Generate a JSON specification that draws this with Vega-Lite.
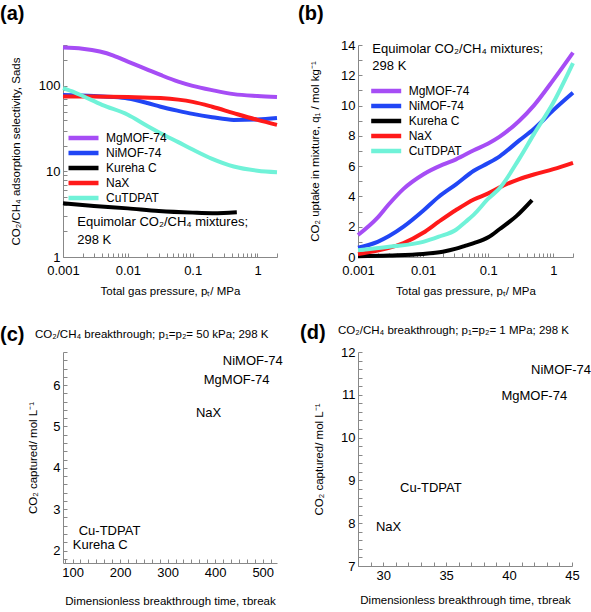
{
  "$schema": "https://vega.github.io/schema/vega-lite/v6.json",
  "padding": {"left": 0, "top": 4, "right": 0, "bottom": 0},
  "config": {
    "font": "Liberation Sans",
    "view": {"stroke": null},
    "axis": {
      "labelFont": "Liberation Sans", "titleFont": "Liberation Sans",
      "labelFontSize": 13, "titleFontSize": 11.5, "titleFontWeight": "normal",
      "labelColor": "#000", "titleColor": "#000",
      "domainColor": "#888", "tickColor": "#888", "tickSize": -4,
      "grid": false, "labelOverlap": false, "labelBound": false, "labelFlush": false, "labelPadding": 7
    },
    "title": {"font": "Liberation Sans", "fontSize": 20, "fontWeight": "bold", "anchor": "start", "frame": "group", "color": "#000"},
    "legend": {"labelFont": "Liberation Sans", "labelFontSize": 12, "labelColor": "#000"}
  },
  "datasets": {
    "a_lines": [
      {"series": "MgMOF-74", "x": 0.001, "y": 280}, {"series": "MgMOF-74", "x": 0.002, "y": 272}, {"series": "MgMOF-74", "x": 0.0037, "y": 252}, {"series": "MgMOF-74", "x": 0.006, "y": 226}, {"series": "MgMOF-74", "x": 0.01, "y": 192}, {"series": "MgMOF-74", "x": 0.02, "y": 155}, {"series": "MgMOF-74", "x": 0.032, "y": 134}, {"series": "MgMOF-74", "x": 0.06, "y": 112}, {"series": "MgMOF-74", "x": 0.1, "y": 100}, {"series": "MgMOF-74", "x": 0.2, "y": 89}, {"series": "MgMOF-74", "x": 0.43, "y": 80}, {"series": "MgMOF-74", "x": 1, "y": 76}, {"series": "MgMOF-74", "x": 2, "y": 74},
      {"series": "NiMOF-74", "x": 0.001, "y": 78}, {"series": "NiMOF-74", "x": 0.003, "y": 76}, {"series": "NiMOF-74", "x": 0.006, "y": 74}, {"series": "NiMOF-74", "x": 0.01, "y": 71}, {"series": "NiMOF-74", "x": 0.02, "y": 63}, {"series": "NiMOF-74", "x": 0.032, "y": 57}, {"series": "NiMOF-74", "x": 0.06, "y": 51}, {"series": "NiMOF-74", "x": 0.1, "y": 47}, {"series": "NiMOF-74", "x": 0.2, "y": 43}, {"series": "NiMOF-74", "x": 0.43, "y": 40}, {"series": "NiMOF-74", "x": 1, "y": 40.5}, {"series": "NiMOF-74", "x": 2, "y": 42},
      {"series": "Kureha C", "x": 0.001, "y": 4.25}, {"series": "Kureha C", "x": 0.003, "y": 3.95}, {"series": "Kureha C", "x": 0.01, "y": 3.7}, {"series": "Kureha C", "x": 0.03, "y": 3.45}, {"series": "Kureha C", "x": 0.1, "y": 3.3}, {"series": "Kureha C", "x": 0.2, "y": 3.25}, {"series": "Kureha C", "x": 0.3, "y": 3.27}, {"series": "Kureha C", "x": 0.48, "y": 3.33},
      {"series": "NaX", "x": 0.001, "y": 75}, {"series": "NaX", "x": 0.003, "y": 75}, {"series": "NaX", "x": 0.01, "y": 74}, {"series": "NaX", "x": 0.032, "y": 72}, {"series": "NaX", "x": 0.06, "y": 69}, {"series": "NaX", "x": 0.1, "y": 65}, {"series": "NaX", "x": 0.2, "y": 57}, {"series": "NaX", "x": 0.43, "y": 48}, {"series": "NaX", "x": 1, "y": 40}, {"series": "NaX", "x": 2, "y": 35},
      {"series": "CuTDPAT", "x": 0.001, "y": 94}, {"series": "CuTDPAT", "x": 0.0015, "y": 84}, {"series": "CuTDPAT", "x": 0.0021, "y": 75}, {"series": "CuTDPAT", "x": 0.004, "y": 60}, {"series": "CuTDPAT", "x": 0.01, "y": 46}, {"series": "CuTDPAT", "x": 0.02, "y": 34}, {"series": "CuTDPAT", "x": 0.032, "y": 28}, {"series": "CuTDPAT", "x": 0.06, "y": 22}, {"series": "CuTDPAT", "x": 0.1, "y": 18}, {"series": "CuTDPAT", "x": 0.2, "y": 14}, {"series": "CuTDPAT", "x": 0.43, "y": 11.4}, {"series": "CuTDPAT", "x": 1, "y": 10.2}, {"series": "CuTDPAT", "x": 2, "y": 9.8}
    ],
    "a_note": [
      {"x": 0.00166, "y": 2.585, "text": "Equimolar CO₂/CH₄ mixtures;"},
      {"x": 0.00166, "y": 1.58, "text": "298 K"}
    ],
    "b_lines": [
      {"series": "MgMOF-74", "x": 0.001, "y": 1.45}, {"series": "MgMOF-74", "x": 0.002, "y": 2.6}, {"series": "MgMOF-74", "x": 0.003, "y": 3.5}, {"series": "MgMOF-74", "x": 0.005, "y": 4.5}, {"series": "MgMOF-74", "x": 0.01, "y": 5.45}, {"series": "MgMOF-74", "x": 0.02, "y": 6.1}, {"series": "MgMOF-74", "x": 0.032, "y": 6.45}, {"series": "MgMOF-74", "x": 0.06, "y": 7.05}, {"series": "MgMOF-74", "x": 0.1, "y": 7.5}, {"series": "MgMOF-74", "x": 0.15, "y": 7.95}, {"series": "MgMOF-74", "x": 0.3, "y": 9.0}, {"series": "MgMOF-74", "x": 0.5, "y": 10.0}, {"series": "MgMOF-74", "x": 1, "y": 11.7}, {"series": "MgMOF-74", "x": 2, "y": 13.5},
      {"series": "NiMOF-74", "x": 0.001, "y": 0.62}, {"series": "NiMOF-74", "x": 0.002, "y": 1.0}, {"series": "NiMOF-74", "x": 0.003, "y": 1.38}, {"series": "NiMOF-74", "x": 0.005, "y": 2.0}, {"series": "NiMOF-74", "x": 0.01, "y": 3.05}, {"series": "NiMOF-74", "x": 0.0174, "y": 3.98}, {"series": "NiMOF-74", "x": 0.032, "y": 4.8}, {"series": "NiMOF-74", "x": 0.06, "y": 5.7}, {"series": "NiMOF-74", "x": 0.1, "y": 6.2}, {"series": "NiMOF-74", "x": 0.15, "y": 6.65}, {"series": "NiMOF-74", "x": 0.3, "y": 7.7}, {"series": "NiMOF-74", "x": 0.5, "y": 8.45}, {"series": "NiMOF-74", "x": 1, "y": 9.7}, {"series": "NiMOF-74", "x": 2, "y": 10.85},
      {"series": "Kureha C", "x": 0.001, "y": 0.05}, {"series": "Kureha C", "x": 0.003, "y": 0.1}, {"series": "Kureha C", "x": 0.01, "y": 0.2}, {"series": "Kureha C", "x": 0.02, "y": 0.35}, {"series": "Kureha C", "x": 0.032, "y": 0.55}, {"series": "Kureha C", "x": 0.045, "y": 0.75}, {"series": "Kureha C", "x": 0.06, "y": 0.92}, {"series": "Kureha C", "x": 0.1, "y": 1.3}, {"series": "Kureha C", "x": 0.15, "y": 1.85}, {"series": "Kureha C", "x": 0.27, "y": 2.7}, {"series": "Kureha C", "x": 0.47, "y": 3.76},
      {"series": "NaX", "x": 0.001, "y": 0.2}, {"series": "NaX", "x": 0.002, "y": 0.42}, {"series": "NaX", "x": 0.003, "y": 0.6}, {"series": "NaX", "x": 0.005, "y": 0.92}, {"series": "NaX", "x": 0.01, "y": 1.6}, {"series": "NaX", "x": 0.0174, "y": 2.33}, {"series": "NaX", "x": 0.032, "y": 3.1}, {"series": "NaX", "x": 0.06, "y": 3.8}, {"series": "NaX", "x": 0.1, "y": 4.2}, {"series": "NaX", "x": 0.15, "y": 4.6}, {"series": "NaX", "x": 0.3, "y": 5.15}, {"series": "NaX", "x": 0.5, "y": 5.45}, {"series": "NaX", "x": 1, "y": 5.8}, {"series": "NaX", "x": 2, "y": 6.22},
      {"series": "CuTDPAT", "x": 0.001, "y": 0.45}, {"series": "CuTDPAT", "x": 0.003, "y": 0.68}, {"series": "CuTDPAT", "x": 0.01, "y": 1.0}, {"series": "CuTDPAT", "x": 0.0174, "y": 1.34}, {"series": "CuTDPAT", "x": 0.032, "y": 1.8}, {"series": "CuTDPAT", "x": 0.045, "y": 2.33}, {"series": "CuTDPAT", "x": 0.06, "y": 2.8}, {"series": "CuTDPAT", "x": 0.1, "y": 3.85}, {"series": "CuTDPAT", "x": 0.15, "y": 4.55}, {"series": "CuTDPAT", "x": 0.3, "y": 6.5}, {"series": "CuTDPAT", "x": 0.5, "y": 8.1}, {"series": "CuTDPAT", "x": 1, "y": 10.2}, {"series": "CuTDPAT", "x": 2, "y": 12.8}
    ],
    "b_note": [
      {"x": 0.00166, "y": 13.72, "text": "Equimolar CO₂/CH₄ mixtures;"},
      {"x": 0.00166, "y": 12.63, "text": "298 K"}
    ],
    "c_labels": [
      {"x": 416, "y": 6.59, "text": "NiMOF-74"},
      {"x": 376, "y": 6.13, "text": "MgMOF-74"},
      {"x": 359.5, "y": 5.33, "text": "NaX"},
      {"x": 113, "y": 2.47, "text": "Cu-TDPAT"},
      {"x": 100.6, "y": 2.13, "text": "Kureha C"}
    ],
    "c_caption": [
      {"x": 21, "y": 7.2, "text": "CO₂/CH₄ breakthrough; p₁=p₂= 50  kPa; 298 K"}
    ],
    "d_labels": [
      {"x": 41.75, "y": 11.59, "text": "NiMOF-74"},
      {"x": 39.39, "y": 10.97, "text": "MgMOF-74"},
      {"x": 31.34, "y": 8.82, "text": "Cu-TDPAT"},
      {"x": 29.42, "y": 7.92, "text": "NaX"}
    ],
    "d_caption": [
      {"x": 26.41, "y": 12.48, "text": "CO₂/CH₄ breakthrough; p₁=p₂= 1  MPa; 298 K"}
    ]
  },
  "columns": 2,
  "spacing": {"row": 95, "column": 81},
  "bounds": "flush",
  "resolve": {"scale": {"x": "independent", "y": "independent", "color": "independent"}, "legend": {"color": "independent"}},
  "concat": [
    {
      "width": 214, "height": 212,
      "title": {"text": "(a)", "dx": -63, "offset": 15},
      "encoding": {
        "x": {"field": "x", "type": "quantitative",
          "scale": {"type": "log", "domain": [0.001, 2], "nice": false},
          "axis": {"title": "Total gas pressure, pₜ/ MPa", "format": "~g", "titlePadding": 8, "labelPadding": 11,
            "values": [0.001,0.002,0.003,0.004,0.005,0.006,0.007,0.008,0.009,0.01,0.02,0.03,0.04,0.05,0.06,0.07,0.08,0.09,0.1,0.2,0.3,0.4,0.5,0.6,0.7,0.8,0.9,1,2],
            "labelExpr": "indexof([0.001,0.01,0.1,1], datum.value) >= 0 ? datum.label : ''"}},
        "y": {"field": "y", "type": "quantitative",
          "scale": {"type": "log", "domain": [1, 300], "nice": false},
          "axis": {"title": "CO₂/CH₄ adsorption selectivity, Sads", "format": "~g", "titlePadding": 17,
            "values": [1,2,3,4,5,6,7,8,9,10,20,30,40,50,60,70,80,90,100,200,300],
            "labelExpr": "indexof([1,10,100], datum.value) >= 0 ? datum.label : ''"}}
      },
      "layer": [
        {"data": {"name": "a_lines"},
         "mark": {"type": "line", "strokeWidth": 4, "interpolate": "monotone"},
         "encoding": {"color": {"field": "series", "type": "nominal",
           "scale": {"domain": ["MgMOF-74", "NiMOF-74", "Kureha C", "NaX", "CuTDPAT"], "range": ["#A64DF5", "#2146F5", "#000000", "#FF1A1A", "#70F2D8"]},
           "legend": {"orient": "none", "legendX": 3, "legendY": 85.6, "title": null, "symbolType": "stroke", "symbolSize": 900, "symbolStrokeWidth": 4.5, "labelOffset": 5, "rowPadding": 0, "clipHeight": 14.7, "padding": 0}}}},
        {"data": {"name": "a_note"},
         "mark": {"type": "text", "align": "left", "baseline": "middle", "fontSize": 13, "font": "Liberation Sans"},
         "encoding": {"text": {"field": "text", "type": "nominal"}}}
      ]
    },
    {
      "width": 215, "height": 212,
      "title": {"text": "(b)", "dx": -60, "offset": 15},
      "encoding": {
        "x": {"field": "x", "type": "quantitative",
          "scale": {"type": "log", "domain": [0.001, 2], "nice": false},
          "axis": {"title": "Total gas pressure, pₜ/ MPa", "format": "~g", "titlePadding": 8, "labelPadding": 11,
            "values": [0.001,0.002,0.003,0.004,0.005,0.006,0.007,0.008,0.009,0.01,0.02,0.03,0.04,0.05,0.06,0.07,0.08,0.09,0.1,0.2,0.3,0.4,0.5,0.6,0.7,0.8,0.9,1,2],
            "labelExpr": "indexof([0.001,0.01,0.1,1], datum.value) >= 0 ? datum.label : ''"}},
        "y": {"field": "y", "type": "quantitative",
          "scale": {"domain": [0, 14], "nice": false},
          "axis": {"title": "CO₂ uptake in mixture, q₁ / mol kg⁻¹", "format": "d", "titlePadding": 20,
            "values": [0,0.5,1,1.5,2,2.5,3,3.5,4,4.5,5,5.5,6,6.5,7,7.5,8,8.5,9,9.5,10,10.5,11,11.5,12,12.5,13,13.5,14],
            "labelExpr": "datum.value % 2 === 0 ? datum.label : ''"}}
      },
      "layer": [
        {"data": {"name": "b_lines"},
         "mark": {"type": "line", "strokeWidth": 4, "interpolate": "monotone"},
         "encoding": {"color": {"field": "series", "type": "nominal",
           "scale": {"domain": ["MgMOF-74", "NiMOF-74", "Kureha C", "NaX", "CuTDPAT"], "range": ["#A64DF5", "#2146F5", "#000000", "#FF1A1A", "#70F2D8"]},
           "legend": {"orient": "none", "legendX": 10.7, "legendY": 38.8, "title": null, "symbolType": "stroke", "symbolSize": 900, "symbolStrokeWidth": 4.5, "labelOffset": 5, "rowPadding": 0, "clipHeight": 14.4, "padding": 0}}}},
        {"data": {"name": "b_note"},
         "mark": {"type": "text", "align": "left", "baseline": "middle", "fontSize": 13, "font": "Liberation Sans"},
         "encoding": {"text": {"field": "text", "type": "nominal"}}}
      ]
    },
    {
      "width": 214, "height": 211,
      "title": {"text": "(c)", "dx": -63, "offset": -16},
      "encoding": {
        "x": {"field": "x", "type": "quantitative",
          "scale": {"domain": [80, 530], "nice": false, "zero": false},
          "axis": {"title": "Dimensionless breakthrough time, τbreak", "format": "d", "titlePadding": 16,
            "values": [83.333,100,116.667,133.333,150,166.667,183.333,200,216.667,233.333,250,266.667,283.333,300,316.667,333.333,350,366.667,383.333,400,416.667,433.333,450,466.667,483.333,500,516.667],
            "labelExpr": "datum.value % 100 === 0 ? datum.label : ''"}},
        "y": {"field": "y", "type": "quantitative",
          "scale": {"domain": [1.7, 6.8], "nice": false, "zero": false},
          "axis": {"title": "CO₂ captured/ mol  L⁻¹", "format": "~g", "titlePadding": 14,
            "values": [1.8,2,2.2,2.4,2.6,2.8,3,3.2,3.4,3.6,3.8,4,4.2,4.4,4.6,4.8,5,5.2,5.4,5.6,5.8,6,6.2,6.4,6.6,6.8],
            "labelExpr": "datum.value % 1 === 0 ? datum.label : ''"}}
      },
      "layer": [
        {"data": {"name": "c_labels"},
         "mark": {"type": "text", "align": "left", "baseline": "middle", "fontSize": 13, "font": "Liberation Sans"},
         "encoding": {"text": {"field": "text", "type": "nominal"}}},
        {"data": {"name": "c_caption"},
         "mark": {"type": "text", "align": "left", "baseline": "middle", "fontSize": 11.5, "font": "Liberation Sans"},
         "encoding": {"text": {"field": "text", "type": "nominal"}}}
      ]
    },
    {
      "width": 214, "height": 214,
      "title": {"text": "(d)", "dx": -58, "offset": -18},
      "encoding": {
        "x": {"field": "x", "type": "quantitative",
          "scale": {"domain": [28, 45], "nice": false, "zero": false},
          "axis": {"title": "Dimensionless breakthrough time, τbreak", "format": "d", "titlePadding": 12,
            "values": [28,29,30,31,32,33,34,35,36,37,38,39,40,41,42,43,44,45],
            "labelExpr": "datum.value % 5 === 0 ? datum.label : ''"}},
        "y": {"field": "y", "type": "quantitative",
          "scale": {"domain": [7, 12], "nice": false, "zero": false},
          "axis": {"title": "CO₂ captured/ mol  L⁻¹", "format": "~g", "titlePadding": 16,
            "values": [7,7.2,7.4,7.6,7.8,8,8.2,8.4,8.6,8.8,9,9.2,9.4,9.6,9.8,10,10.2,10.4,10.6,10.8,11,11.2,11.4,11.6,11.8,12],
            "labelExpr": "datum.value % 1 === 0 ? datum.label : ''"}}
      },
      "layer": [
        {"data": {"name": "d_labels"},
         "mark": {"type": "text", "align": "left", "baseline": "middle", "fontSize": 13, "font": "Liberation Sans"},
         "encoding": {"text": {"field": "text", "type": "nominal"}}},
        {"data": {"name": "d_caption"},
         "mark": {"type": "text", "align": "left", "baseline": "middle", "fontSize": 11.5, "font": "Liberation Sans"},
         "encoding": {"text": {"field": "text", "type": "nominal"}}}
      ]
    }
  ]
}
